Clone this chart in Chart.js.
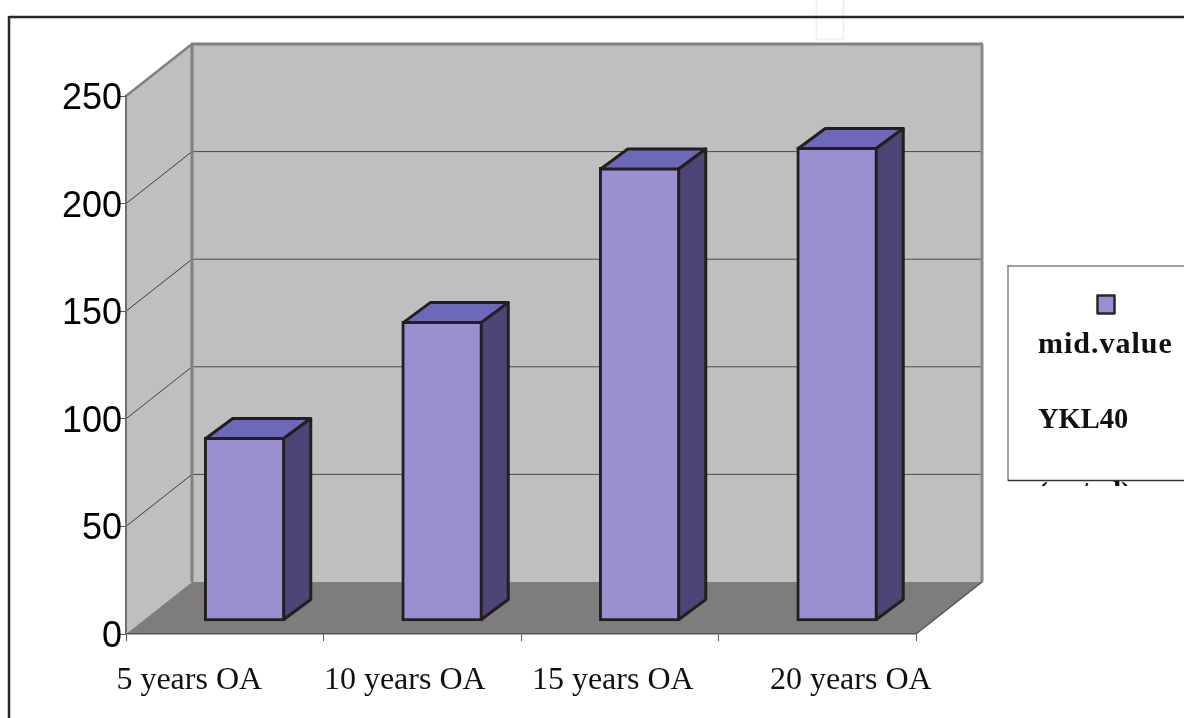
<!DOCTYPE html>
<html>
<head>
<meta charset="utf-8">
<script src="https://cdn.jsdelivr.net/npm/chart.js@4"></script>
<style>
  html, body { margin: 0; padding: 0; background: #fff; overflow: hidden; }
  #wrap { width: 1184px; height: 718px; }
</style>
</head>
<body>
<div id="wrap"><canvas id="chart" width="1184" height="718"></canvas></div>
<script>
const categories = ["5 years OA", "10 years OA", "15 years OA", "20 years OA"];
const midValues = [85.7, 139.6, 211, 220.5];
const legendLines = ["mid.value", "YKL40", "(ng/ml)"];
const labelNudge = [-35.5, -17.5, -7, 33.5]; // labels do not sit centred in the original

// 3d look
const wallDepth = { x: 66, y: -52 };
const barShift = { x: 20, y: -12.5 };
const barDepth = { x: 27, y: -20 };
const serif = "'Liberation Serif', serif";

function shape(ctx, pts, fill, stroke, lw) {
  ctx.beginPath();
  pts.forEach((p, i) => (i ? ctx.lineTo(p[0], p[1]) : ctx.moveTo(p[0], p[1])));
  ctx.closePath();
  if (fill) {
    ctx.fillStyle = fill;
    ctx.fill();
  }
  if (stroke) {
    ctx.strokeStyle = stroke;
    ctx.lineWidth = lw;
    ctx.lineJoin = "round";
    ctx.stroke();
  }
}

function line(ctx, x1, y1, x2, y2, color, lw) {
  ctx.beginPath();
  ctx.moveTo(x1, y1);
  ctx.lineTo(x2, y2);
  ctx.strokeStyle = color;
  ctx.lineWidth = lw;
  ctx.stroke();
}

const box3d = {
  id: "box3d",
  beforeDraw(chart) {
    const ctx = chart.ctx;
    const a = chart.chartArea;
    const dx = wallDepth.x;
    const dy = wallDepth.y;
    const y = chart.scales.y;

    ctx.save();
    // page frame and faint box at the top
    ctx.fillStyle = "#fff";
    ctx.fillRect(0, 0, 1184, 718);
    shape(ctx, [[816.5, -2], [843.5, -2], [843.5, 39.5], [816.5, 39.5]], null, "#f0f1f0", 2);
    line(ctx, 9, 17, 1184, 17, "#2a2727", 2.5);
    line(ctx, 9, 16, 9, 718, "#2a2727", 2.5);

    // walls and floor
    shape(ctx, [[a.left, a.top], [a.left + dx, a.top + dy], [a.left + dx, a.bottom + dy], [a.left, a.bottom]], "#bfbfbf");
    shape(ctx, [[a.left + dx, a.top + dy], [a.right + dx, a.top + dy], [a.right + dx, a.bottom + dy], [a.left + dx, a.bottom + dy]], "#bfbfbf");
    shape(ctx, [[a.left, a.bottom], [a.left + dx, a.bottom + dy], [a.right + dx, a.bottom + dy], [a.right, a.bottom]], "#7f7c7c");

    // grid lines run along both walls
    y.ticks.forEach((t) => {
      if (t.value === 0 || t.value === 250) return;
      const py = y.getPixelForValue(t.value);
      line(ctx, a.left, py, a.left + dx, py + dy, "#3c3c3c", 1);
      line(ctx, a.left + dx, py + dy, a.right + dx, py + dy, "#4a4a4a", 1);
    });

    // wall edges
    line(ctx, a.left, a.top, a.left + dx, a.top + dy, "#808080", 2.5);
    line(ctx, a.left + dx - 1, a.top + dy, a.right + dx + 1, a.top + dy, "#808080", 3);
    line(ctx, a.left + dx, a.top + dy, a.left + dx, a.bottom + dy, "#808080", 3);
    line(ctx, a.right + dx, a.top + dy, a.right + dx, a.bottom + dy, "#8a8a8a", 3);
    line(ctx, a.right, a.bottom, a.right + dx, a.bottom + dy, "#555", 1.5);
    ctx.restore();
  },
  beforeDatasetsDraw(chart) {
    chart.ctx.save();
    chart.ctx.translate(barShift.x, barShift.y);
  },
  afterDatasetsDraw(chart) {
    const ctx = chart.ctx;
    chart.getDatasetMeta(0).data.forEach((bar) => {
      const l = bar.x - bar.width / 2 + 1.5;
      const r = bar.x + bar.width / 2 - 1.5;
      const t = bar.y + 1.5;
      const b = bar.base - 1.5;
      const dx = barDepth.x;
      const dy = barDepth.y;
      shape(ctx, [[l, t], [l + dx, t + dy], [r + dx, t + dy], [r, t]], "#6e68b8", "#231f20", 3);
      shape(ctx, [[r, t], [r + dx, t + dy], [r + dx, b + dy], [r, b]], "#4e4576", "#231f20", 3);
    });
    ctx.restore();
  },
  afterDraw(chart) {
    const ctx = chart.ctx;
    const x = chart.scales.x;
    ctx.save();

    // category labels
    ctx.font = "32px " + serif;
    ctx.fillStyle = "#111";
    ctx.textAlign = "center";
    ctx.textBaseline = "alphabetic";
    categories.forEach((c, i) => {
      ctx.fillText(c, x.getPixelForValue(i) + labelNudge[i], 689);
    });

    // legend, the last line is cut off by the box like in the original
    ctx.textAlign = "left";
    ctx.font = "bold 30px " + serif;
    ctx.save();
    ctx.beginPath();
    ctx.rect(1000, 470, 184, 16);
    ctx.clip();
    ctx.fillText(legendLines[2], 1038, 502);
    ctx.restore();

    ctx.fillStyle = "#fff";
    ctx.fillRect(1008, 266, 176, 214);
    line(ctx, 1008, 266, 1184, 266, "#808080", 1.5);
    line(ctx, 1008, 265, 1008, 481, "#808080", 1.5);
    line(ctx, 1008, 480.5, 1184, 480.5, "#333", 1.5);

    shape(ctx, [[1097.5, 295.5], [1114.5, 295.5], [1114.5, 313.5], [1097.5, 313.5]], "#9a8fd1", "#2a2727", 2.5);
    ctx.fillStyle = "#111";
    ctx.letterSpacing = "1px";
    ctx.fillText(legendLines[0], 1038, 353);
    ctx.letterSpacing = "0px";
    ctx.font = "bold 28.5px " + serif;
    ctx.fillText(legendLines[1], 1038, 428);
    ctx.restore();
  },
};

new Chart(document.getElementById("chart"), {
  type: "bar",
  data: {
    labels: categories,
    datasets: [
      {
        label: legendLines[0],
        data: midValues,
        backgroundColor: "#9a8fd1",
        borderColor: "#231f20",
        borderWidth: 3,
        borderSkipped: false,
        barThickness: 81,
        clip: false,
      },
    ],
  },
  options: {
    responsive: false,
    animation: false,
    layout: { padding: { top: 96, right: 268, left: 0, bottom: 0 } },
    plugins: { legend: { display: false }, tooltip: { enabled: false } },
    scales: {
      x: {
        afterFit(scale) {
          scale.height = 84;
        },
        border: { color: "#555", width: 1.5 },
        grid: { drawOnChartArea: false, color: "#555", tickLength: 7, lineWidth: 1 },
        ticks: { display: false },
      },
      y: {
        min: 0,
        max: 250,
        afterFit(scale) {
          scale.width = 126;
        },
        border: { color: "#707070", width: 2 },
        grid: { drawOnChartArea: false, color: "#555", tickLength: 6, lineWidth: 1 },
        ticks: {
          stepSize: 50,
          padding: -2,
          labelOffset: 3,
          color: "#000",
          font: { family: "'Liberation Sans', sans-serif", size: 36 },
        },
      },
    },
  },
  plugins: [box3d],
});
</script>
</body>
</html>
